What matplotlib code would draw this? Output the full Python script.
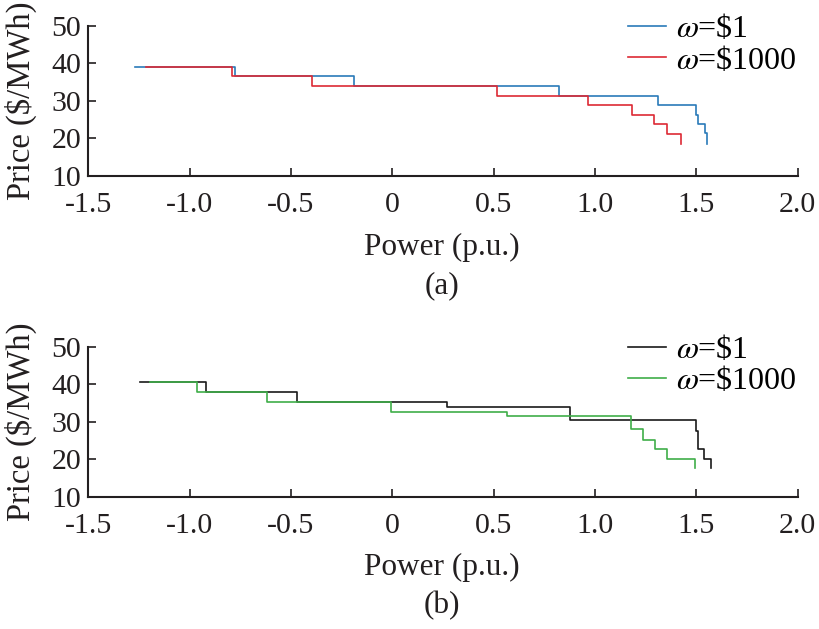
import matplotlib
matplotlib.use('Agg')
import matplotlib.pyplot as plt

plt.rcParams['font.family'] = ['Liberation Serif', 'DejaVu Serif']
plt.rcParams['mathtext.fontset'] = 'stix'
plt.rcParams['axes.unicode_minus'] = False

# panel (a): supply curves, omega = $1 (blue) and omega = $1000 (red)
a_w1_power = [-1.27, -0.775, -0.188, 0.822, 1.309, 1.500, 1.507, 1.543, 1.551]
a_w1_price = [39.1, 36.7, 34.05, 31.4, 28.8, 26.2, 23.8, 21.3, 18.5]
a_w1000_power = [-1.216, -0.793, -0.396, 0.516, 0.967, 1.181, 1.293, 1.354, 1.423]
a_w1000_price = [39.1, 36.7, 34.05, 31.4, 28.8, 26.2, 23.8, 21.1, 18.5]

# panel (b): omega = $1 (black) and omega = $1000 (green)
b_w1_power = [-1.246, -0.918, -0.47, 0.27, 0.877, 1.498, 1.507, 1.54, 1.571]
b_w1_price = [40.7, 38.0, 35.3, 34.0, 30.4, 27.5, 22.7, 20.0, 17.6]
b_w1000_power = [-1.197, -0.964, -0.618, -0.005, 0.564, 1.178, 1.235, 1.296, 1.354, 1.495]
b_w1000_price = [40.7, 38.0, 35.3, 32.7, 31.4, 28.0, 25.1, 22.6, 20.0, 17.6]

labels = [r'$\omega$=\$1', r'$\omega$=\$1000']
xticks = [-1.5, -1.0, -0.5, 0, 0.5, 1.0, 1.5, 2.0]
xticklabels = ['-1.5', '-1.0', '-0.5', '0', '0.5', '1.0', '1.5', '2.0']
yticks = [10, 20, 30, 40, 50]

W, H = 819, 629
fig = plt.figure(figsize=(W / 100, H / 100), dpi=100)
ink = '#231f20'


def make_axes(top_px, bottom_px):
    left, right = 88.3, 797.7
    return fig.add_axes([left / W, 1 - bottom_px / H, (right - left) / W, (bottom_px - top_px) / H])


def style(ax):
    ax.set_xlim(-1.5, 2.0)
    ax.set_ylim(10, 50)
    ax.set_xticks(xticks)
    ax.set_xticklabels(xticklabels)
    ax.set_yticks(yticks)
    for s in ['top', 'right']:
        ax.spines[s].set_visible(False)
    for s in ['left', 'bottom']:
        ax.spines[s].set_linewidth(1.5)
        ax.spines[s].set_color(ink)
    ax.tick_params(direction='in', length=6, width=1.2, labelsize=21.5, colors=ink)
    ax.tick_params(axis='x', pad=12)
    ax.tick_params(axis='y', pad=5)
    ax.set_ylabel('Price ($/MWh)', fontsize=23.5, color=ink)
    ax.yaxis.set_label_coords(-0.072, 0.5)
    ax.legend(loc='upper left', bbox_to_anchor=(0.761, 1.08), frameon=False, fontsize=23,
              handlelength=1.2, handletextpad=0.3, labelspacing=0.05, borderaxespad=0, borderpad=0)


ax1 = make_axes(26, 175.7)
ax1.plot(a_w1_power, a_w1_price, drawstyle='steps-post', color='#2a7ab9', lw=1.2, label=labels[0])
ax1.plot(a_w1000_power, a_w1000_price, drawstyle='steps-post', color='#dd2a35', lw=1.2, label=labels[1])
style(ax1)

ax2 = make_axes(346.7, 496.7)
ax2.plot(b_w1_power, b_w1_price, drawstyle='steps-post', color='#1a1a1a', lw=1.2, label=labels[0])
ax2.plot(b_w1000_power, b_w1000_price, drawstyle='steps-post', color='#3fae49', lw=1.2, label=labels[1])
style(ax2)

cx = 442 / W
for base, tag in [(0, '(a)'), (320, '(b)')]:
    fig.text(cx, 1 - (255 + base) / H, 'Power (p.u.)', ha='center', va='baseline', fontsize=22.5, color=ink)
    fig.text(cx, 1 - (293 + base) / H, tag, ha='center', va='baseline', fontsize=22.5, color=ink)

fig.savefig('out.png', dpi=100)
